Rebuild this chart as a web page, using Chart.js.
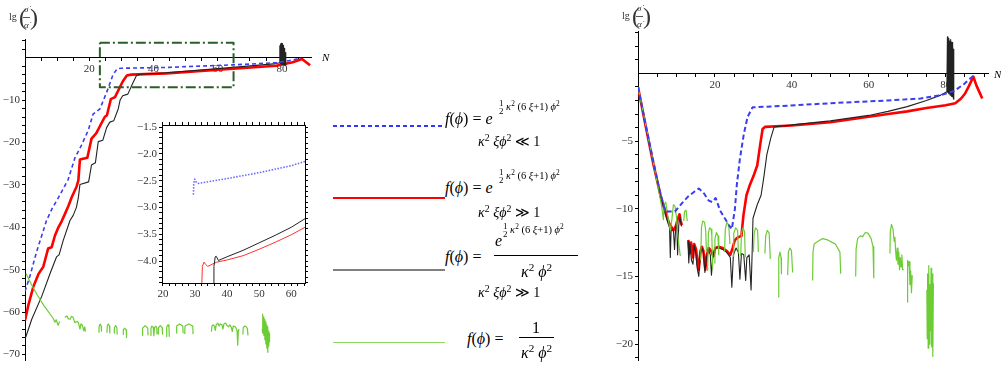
<!DOCTYPE html>
<html>
<head>
<meta charset="utf-8">
<script src="https://cdn.jsdelivr.net/npm/chart.js@4.4.0/dist/chart.umd.min.js"></script>
<style>
  body { margin: 0; background: #fff; width: 1001px; height: 369px; overflow: hidden; position: relative;
         font-family: "Liberation Serif", "DejaVu Serif", serif; color: #000; }
  .box { position: absolute; }
  .t { position: absolute; white-space: nowrap; transform: translateY(-50%); line-height: 1; }
  .sp { font-size: 70%; vertical-align: 0.55em; }
  .fr { display: inline-block; vertical-align: middle; text-align: center; font-size: 85%; line-height: 0.85; }
  .fr span { display: block; }
  .bar { position: absolute; height: 1px; background: #000; }
  .lg { position: absolute; left: 333px; width: 112px; }
</style>
</head>
<body>

<div class="box" style="left:0;top:0;width:330px;height:369px"><canvas id="chart-left"></canvas></div>
<div class="box" style="left:600px;top:0;width:401px;height:369px"><canvas id="chart-right"></canvas></div>
<div class="box" style="left:130px;top:115px;width:180px;height:185px;background:#fff"><canvas id="chart-inset"></canvas></div>

<!-- axis titles -->
<div class="t" style="left:9px;top:17px;font-size:10px;color:#333">lg</div>
<div class="t" style="left:19px;top:17px;font-size:24px;color:#333">(</div>
<div class="t" style="left:24px;top:9px;font-size:9px;color:#333"><i>σ̇</i></div>
<div class="bar" style="left:23px;top:17px;width:7px;background:#555"></div>
<div class="t" style="left:24px;top:25px;font-size:9px;color:#333"><i>α̇</i></div>
<div class="t" style="left:30px;top:17px;font-size:24px;color:#333">)</div>
<div class="t" style="left:322px;top:57px;font-size:11px"><i>N</i></div>

<div class="t" style="left:622px;top:16px;font-size:10px;color:#333">lg</div>
<div class="t" style="left:632px;top:16px;font-size:24px;color:#333">(</div>
<div class="t" style="left:637px;top:8px;font-size:9px;color:#333"><i>σ̇</i></div>
<div class="bar" style="left:636px;top:16px;width:7px;background:#555"></div>
<div class="t" style="left:637px;top:24px;font-size:9px;color:#333"><i>α̇</i></div>
<div class="t" style="left:643px;top:16px;font-size:24px;color:#333">)</div>
<div class="t" style="left:994px;top:74px;font-size:11px"><i>N</i></div>

<!-- legend -->
<div class="lg" style="top:125px;height:1.5px;background:repeating-linear-gradient(90deg,#3434ff 0 4px,transparent 4px 7px)"></div>
<div class="lg" style="top:196.5px;height:2.5px;background:#f00"></div>
<div class="lg" style="top:269px;height:2px;background:#808080"></div>
<div class="lg" style="top:341.5px;height:1.5px;background:#8fd860"></div>

<div class="t" style="left:445px;top:119px;font-size:16px"><i>f</i>(<i>ϕ</i>) = <i>e</i></div>
<div class="t" style="left:499px;top:108px;font-size:10.5px"><span class="fr"><span>1</span><span>2</span></span> <i>κ</i><span class="sp">2</span> (6 <i>ξ</i>+1) <i>ϕ</i><span class="sp">2</span></div>
<div class="t" style="left:478px;top:141px;font-size:14px"><i>κ</i><span class="sp">2</span> <i>ξϕ</i><span class="sp">2</span> ≪ 1</div>

<div class="t" style="left:445px;top:188px;font-size:16px"><i>f</i>(<i>ϕ</i>) = <i>e</i></div>
<div class="t" style="left:499px;top:177px;font-size:10.5px"><span class="fr"><span>1</span><span>2</span></span> <i>κ</i><span class="sp">2</span> (6 <i>ξ</i>+1) <i>ϕ</i><span class="sp">2</span></div>
<div class="t" style="left:478px;top:212px;font-size:14px"><i>κ</i><span class="sp">2</span> <i>ξϕ</i><span class="sp">2</span> ≫ 1</div>

<div class="t" style="left:445px;top:257px;font-size:16px"><i>f</i>(<i>ϕ</i>) =</div>
<div class="t" style="left:495px;top:241px;font-size:16px"><i>e</i></div>
<div class="t" style="left:503px;top:231px;font-size:10.5px"><span class="fr"><span>1</span><span>2</span></span> <i>κ</i><span class="sp">2</span> (6 <i>ξ</i>+1) <i>ϕ</i><span class="sp">2</span></div>
<div class="bar" style="left:494px;top:255px;width:84px"></div>
<div class="t" style="left:521px;top:271px;font-size:16px"><i>κ</i><span class="sp">2</span> <i>ϕ</i><span class="sp">2</span></div>
<div class="t" style="left:478px;top:292px;font-size:14px"><i>κ</i><span class="sp">2</span> <i>ξϕ</i><span class="sp">2</span> ≫ 1</div>

<div class="t" style="left:467px;top:339px;font-size:16px"><i>f</i>(<i>ϕ</i>) =</div>
<div class="t" style="left:532px;top:328px;font-size:16px">1</div>
<div class="bar" style="left:519px;top:337px;width:35px"></div>
<div class="t" style="left:521px;top:352px;font-size:16px"><i>κ</i><span class="sp">2</span> <i>ϕ</i><span class="sp">2</span></div>

<script>
/* ---- Data: [N, lg] pairs, null = gap ---- */

// left panel
const leftBlue = [[0,-55.1],[1.5,-51.6],[3.6,-45.8],[6.7,-38.4],[8.5,-35.5],[10.4,-33],[13.4,-28.8],[15.5,-23.7],
  [17.6,-20.6],[19.7,-17.1],[21.2,-13.3],[23.3,-12.1],[25.4,-8.2],[27.4,-4],[28.7,-2.6],[30,-2.5],[44,-2.3],
  [64.7,-1.7],[78.2,-1.2],[82.3,-0.7],[85.9,-0.1]];

const leftRed = [[0,-62],[1,-58.5],[2.6,-54],[4.2,-51],[5.7,-49.3],[7.2,-45],[8.3,-44.7],[9.3,-42],[10.4,-40],
  [11.4,-38.6],[12.4,-36.9],[13.5,-35],[14.5,-33],[16,-30.5],[16.6,-29],[17.1,-24],[19.4,-23.6],[20.7,-19.1],
  [22.2,-17.8],[24.8,-14],[25.5,-13.6],[26.7,-9.8],[28,-9.3],[29.5,-7],[30.5,-5.5],[31.7,-4.2],[33,-4.0],
  [44,-3.7],[64.7,-2.6],[78.2,-1.9],[83.3,-1.1],[86.2,-0.3],[88.7,-1.8]];

const leftBlack = [[0,-66.4],[2.1,-61.7],[5.2,-56.3],[7.8,-50.9],[9.8,-47],[10.6,-46.5],[11.9,-43.1],[14,-38.4],
  [15,-37.2],[16,-35.3],[16.6,-33],[17.1,-29.9],[19.8,-29.3],[20.7,-25.3],[21.9,-24.8],[22.8,-19.8],[24.2,-19.5],
  [25.4,-16.5],[26.4,-15.2],[27.6,-14.9],[29,-12.1],[29.6,-10],[30.4,-9],[32,-8.6],[33.6,-5.9],[34.7,-4.2],
  [36,-3.9],[44,-3.55],[64.7,-2.3],[78.2,-1.4],[79.2,-1.2],
  [79.3,2.8],[79.4,-1.3],[79.5,3.2],[79.6,-1.4],[79.7,3.4],[79.8,-1.5],[79.9,3.0],[80,-1.5],[80.1,3.3],[80.2,-1.6],
  [80.3,2.9],[80.4,-1.6],[80.5,2.6],[80.6,-1.7],[80.7,2.2],[80.8,-1.7],[80.9,1.6],[81,-1.8],[81.1,1.2],[81.2,-1.8]];

const leftGreen = [[0.3,-50.9],[2,-53.5],[4,-56.2],[6,-58.6],[8.7,-61.4],[9.3,-62.4],[9.7,-61.8],[10.3,-63.1],[10.8,-62.2],null,
  [12.4,-61.3],[13,-60.9],[13.5,-61.6],[14,-61.7],[14.5,-61],[15,-61.3],[15.5,-62.5],[16.2,-62.2],[16.6,-62.5],
  [17.1,-64],[17.4,-62.8],[17.8,-63],[18.3,-64.4],[18.6,-63.5],[18.8,-64.6],null,
  [23,-64.9],[23.1,-63.3],[23.4,-62.8],[23.7,-63.3],[23.8,-64.5],null,
  [25.5,-64.9],[25.6,-63.3],[25.9,-62.8],[26.3,-63.3],[26.4,-64.9],null,
  [27.7,-65],[27.8,-63.7],[28.2,-63.2],[28.6,-63.7],[28.7,-65.3],null,
  [30.5,-65.3],[30.6,-64.2],[31,-63.8],[31.5,-64.2],[31.6,-66],null,
  [36.5,-65.5],[36.6,-63.8],[37.4,-63.2],[38.2,-63.8],[38.3,-65.5],null,
  [39.1,-65.5],[39.2,-63.8],[39.5,-63.3],[39.9,-63.6],[40.1,-65.6],[40.3,-63.6],[40.7,-63.3],[41,-63.8],[41.1,-65.3],null,
  [41.4,-65.2],[41.5,-63.7],[42.1,-63.2],[42.7,-63.7],[42.8,-65.2],null,
  [44,-65.8],[44.1,-63.5],[44.5,-63],[44.8,-63.5],[44.9,-65.8],null,
  [47.1,-65],[47.2,-63.3],[48.1,-62.8],[49.1,-63.3],[49.2,-65],null,
  [49.7,-65.2],[49.8,-63.3],[51,-62.8],[52.2,-63.3],[52.3,-65.2],null,
  [58,-64.6],[58.2,-63.2],[58.6,-63],[59,-63.4],[59.2,-64.3],[59.5,-63],[60,-62.6],[60.4,-63.3],[60.8,-62.8],
  [61.3,-63],[61.6,-64],[61.9,-62.8],[62.4,-62.6],[62.9,-63.2],[63.3,-63.5],[63.7,-63],[64.2,-63.6],[64.5,-64.6],
  [64.8,-63.3],[65.3,-63.4],[65.7,-63.8],[66,-64.5],[66.2,-67.8],[66.4,-64.4],[66.6,-64],null,
  [67.8,-65.3],[67.9,-63.8],[68.3,-63.3],[68.8,-63.4],[69.2,-63.9],[69.4,-65.5],null,
  [73.8,-64],[73.9,-60.5],[74.05,-65],[74.2,-61.2],[74.35,-65.5],[74.5,-61.8],[74.65,-66.5],[74.8,-62.3],
  [74.95,-67.5],[75.1,-63],[75.25,-68.5],[75.4,-63.5],[75.55,-69.5],[75.7,-64.5],[75.85,-68],[76,-65],[76.1,-67]];

const leftZoomBox = [[23.3,3.5],[64.9,3.5],[64.9,-7],[23.3,-7],[23.3,3.5]];

const LEFT_X_TICKS = [5,10,15,20,25,30,35,40,45,50,55,60,65,70,75,80,85];
const LEFT_Y_TICKS = [-70,-68,-66,-64,-62,-60,-58,-56,-54,-52,-50,-48,-46,-44,-42,-40,-38,-36,-34,-32,-30,
  -28,-26,-24,-22,-20,-18,-16,-14,-12,-10,-8,-6,-4,-2,2,4];

// inset (zoom of the dash-dot box)
const insetBlue = [[29.5,-2.76],[29.6,-2.55],[29.9,-2.47],[30.4,-2.53],[31,-2.55],[40,-2.46],[50,-2.35],[60,-2.22],[64.3,-2.14]];
const insetRed = [[32.1,-4.45],[32.3,-4.1],[32.8,-4.02],[33.3,-4.06],[33.9,-4.1],[35,-4.07],[36.8,-4.02],[40,-3.98],
  [45,-3.9],[50,-3.78],[55,-3.65],[60,-3.51],[64.3,-3.37]];
const insetBlack = [[35.7,-4.45],[35.9,-4.1],[36.3,-3.92],[36.6,-3.91],[37.3,-3.99],[40,-3.92],[45,-3.8],[50,-3.66],
  [55,-3.52],[60,-3.37],[64.3,-3.21]];

const INSET_X_TICKS = [20,22,24,26,28,30,32,34,36,38,40,42,44,46,48,50,52,54,56,58,60,62,64];
const INSET_Y_TICKS = [-4.4,-4.3,-4.2,-4.1,-4.0,-3.9,-3.8,-3.7,-3.6,-3.5,-3.4,-3.3,-3.2,-3.1,-3.0,-2.9,-2.8,-2.7,
  -2.6,-2.5,-2.4,-2.3,-2.2,-2.1,-2.0,-1.9,-1.8,-1.7,-1.6,-1.5];

// right panel
const rightBlue = [[0,-1],[2,-3.8],[4,-6.5],[5.5,-8.5],[6.8,-9.9],[7.5,-10.2],[9.6,-10.2],[11.4,-9.6],[13,-9.1],
  [14.8,-8.7],[15.8,-8.5],[17,-8.8],[18.4,-9.4],[19.3,-9.5],[20.2,-9.2],[21.3,-10.1],[23.6,-11.2],[24.4,-11.5],
  [25.2,-10],[25.7,-8.2],[26.5,-6.3],[27.5,-4.5],[28.5,-3.2],[29.8,-2.5],[38.9,-2.38],[50,-2.2],[64.9,-2.0],
  [73.5,-1.85],[78.7,-1.6],[82.2,-1.3],[84.7,-0.8],[87.2,-0.17]];

const rightRed = [[0,-1],[2,-3.9],[4,-6.7],[6,-9.2],[8,-11],[9.2,-11.6],[9.8,-11.3],[10.3,-10.8],[10.8,-10.4],
  [11.1,-10.9],[11.4,-11.2],null,
  [13.1,-12.3],[13.4,-13.3],[13.8,-12.5],[14.3,-13.6],[14.6,-12.6],[15.1,-13],[15.5,-14.1],[15.8,-14.5],[16.2,-13.2],
  [16.6,-12.8],[17,-13.1],[17.5,-14.5],[17.9,-13.4],[18.4,-12.9],[19,-13.1],[19.6,-13.5],[20.1,-12.9],[21,-12.8],
  [22,-12.9],[23,-13.1],[24,-13.4],[24.6,-12.9],[25.2,-12.3],[26,-12.1],[26.9,-12.0],[27.4,-10.5],[28.2,-9],
  [29,-8.3],[30,-7.6],[31,-6.8],[31.8,-5.2],[32.4,-4.1],[33,-3.95],[40,-3.85],[50,-3.6],[60,-3.2],[65,-3.0],
  [70,-2.8],[75,-2.55],[80,-2.35],[82.5,-2.2],[84,-1.85],[85,-1.5],[86,-0.95],[87.2,-0.24],[88,-0.9],[88.8,-1.4],[89.5,-1.85]];

const rightBlack = [[0,-1],[2,-3.9],[4,-6.7],[6,-9.3],[7.5,-10.8],[8.2,-11.4],[8.4,-13.6],[8.6,-11.6],[9.2,-11.5],
  [9.5,-13],[9.8,-11.4],[10.1,-11.2],[10.3,-13.4],[10.6,-11.2],[10.9,-10.6],[11.3,-11.3],null,
  [13,-12.4],[13.2,-14],[13.5,-12.6],[13.9,-13.8],[14.3,-14.1],[14.6,-12.7],[15,-13.2],[15.4,-14.4],[15.8,-15],
  [16.2,-13.4],[16.6,-12.9],[17,-13.2],[17.4,-14.7],[17.8,-13.6],[18.3,-13],[18.8,-13.4],[19.1,-14.9],[19.5,-13.4],
  [20.2,-12.9],[21,-12.9],[22,-13],[23,-13.2],[24,-13.6],[24.4,-15.8],[24.8,-13.4],[25.5,-12.9],[26.1,-13.2],
  [26.5,-15.2],[26.9,-13.3],[27.5,-13.4],[28,-15.3],[28.3,-13.6],[28.9,-13.4],[29.4,-16],[29.7,-13],[29.9,-10.7],
  [31,-9.7],[32,-9],[32.7,-7.7],[33.5,-6],[34.5,-4.8],[35.4,-3.95],[40,-3.8],[50,-3.5],[60,-3.1],[65,-2.8],
  [70,-2.45],[75,-2.0],[78.7,-1.6],[80.3,-1.35],
  [80.45,2.7],[80.55,-1.4],[80.65,2.5],[80.75,-1.5],[80.85,2.6],[80.95,-1.5],[81.05,2.4],[81.15,-1.6],[81.25,2.5],
  [81.35,-1.6],[81.45,2.3],[81.55,-1.7],[81.65,2.2],[81.75,-1.7],[81.85,2.3],[81.95,-1.8],[82.05,1.8],[82.15,-1.9]];

const rightGreen = [[0,-1],[2,-3.8],[4,-6.6],[5.5,-8.8],[6.2,-9.9],[6.6,-10.8],[6.8,-9.7],[7.2,-9.5],[7.6,-10.2],
  [8,-11],[8.4,-11.6],[8.8,-10.8],[9.2,-9.7],[9.6,-9.8],[10,-10.6],[10.3,-11.8],[10.6,-12.6],[11,-13.5],null,
  [11.9,-10.9],[12.1,-10.2],[12.5,-10.1],[12.8,-10.9],null,
  [16.3,-13.8],[16.5,-11.4],[16.8,-10.9],[17.3,-11],[17.6,-11.6],[17.8,-13.2],null,
  [18.1,-14.6],[18.3,-11.8],[18.6,-11.4],[19,-11.5],[19.2,-12],[19.4,-14.5],null,
  [19.8,-14],[20,-12.2],[20.4,-11.75],[20.8,-12],[21,-13.4],null,
  [22.5,-13.2],[22.7,-11.5],[23.1,-11],[23.6,-11.2],[23.9,-12.6],null,
  [24.7,-13.5],[24.9,-11.8],[25.4,-11.4],[25.9,-11.6],[26.1,-13.3],null,
  [26.7,-13.5],[26.9,-11.8],[27.3,-11.4],[27.7,-11.7],[27.9,-13.6],null,
  [30,-13.2],[30.2,-11.8],[30.6,-11.4],[31.1,-11.6],[31.3,-13.2],null,
  [33,-13.3],[33.2,-12],[33.6,-11.6],[34.1,-11.8],[34.4,-13.7],null,
  [36.4,-16.5],[36.6,-13.6],[36.9,-13.2],[37.2,-13.6],[37.3,-14.8],null,
  [38.9,-14.9],[39.1,-13.2],[39.5,-12.9],[39.9,-13.1],[40.2,-14.7],null,
  [45.4,-15.3],[45.5,-13.2],[45.8,-12.6],[46.8,-12.4],[48,-12.2],[49.3,-12.3],[50.6,-12.5],[51.3,-12.6],[52.5,-13.2],[52.7,-14.8],null,
  [56.6,-15.0],[56.7,-13],[57.1,-12.2],[57.8,-12],[58.4,-12.05],[59.1,-11.75],[59.8,-11.8],[60.6,-12.2],[61.1,-12.8],[61.3,-15.1],null,
  [65.5,-13.3],[65.6,-11.7],[65.9,-11.15],[66.3,-11.5],[66.6,-12.4],[66.8,-12.1],[67,-13.2],[67.2,-13.8],[67.4,-12.9],
  [67.6,-14.1],[67.8,-13.2],[68,-14.5],[68.2,-13.6],[68.4,-14.3],[68.6,-13.4],[68.8,-14.5],[69.1,-14.5],null,
  [70,-16.9],[70.1,-13.8],[70.3,-14.2],[70.5,-13.9],[70.7,-15.6],[70.9,-14.6],[71.1,-16.2],[71.3,-14.9],null,
  [75.1,-16],[75.2,-19.6],[75.3,-14.8],[75.45,-20.3],[75.6,-14.2],[75.75,-20],[75.9,-15.6],[76.05,-19],[76.2,-14.4],
  [76.35,-20.2],[76.5,-14.8],[76.65,-20.9],[76.8,-15.5]];

const RIGHT_X_TICKS = [5,10,15,20,25,30,35,40,45,50,55,60,65,70,75,80,85,90];
const RIGHT_Y_TICKS = [-21,-20,-19,-18,-17,-16,-15,-14,-13,-12,-11,-10,-9,-8,-7,-6,-5,-4,-3,-2,-1,1,2,3];

/* ---- Helpers ---- */

const TICK_FONT = { family: '"Liberation Serif", "DejaVu Serif", serif', size: 11 };
const TICK_COLOR = '#333';

function toPoints(list) {
  let lastX = 0;
  return list.map(p => {
    if (p === null) return { x: lastX, y: null };
    lastX = p[0];
    return { x: p[0], y: p[1] };
  });
}

function line(list, color, width, dash) {
  return {
    data: toPoints(list),
    borderColor: color,
    borderWidth: width,
    borderDash: dash || [],
    borderJoinStyle: 'round',
    pointRadius: 0,
    tension: 0,
    fill: false,
    spanGaps: false
  };
}

function minus(v, digits) {
  const s = digits ? Math.abs(v).toFixed(digits) : String(Math.abs(v));
  return (v < 0 ? '\u2212' : '') + s;
}

function setTicks(values) {
  return (axis) => { axis.ticks = values.map(v => ({ value: v })); };
}

function axis(min, max, ticks, label, extra) {
  return Object.assign({
    type: 'linear',
    min: min,
    max: max,
    afterBuildTicks: setTicks(ticks),
    ticks: { autoSkip: false, maxRotation: 0, color: TICK_COLOR, font: TICK_FONT, padding: 2, callback: label },
    grid: { drawOnChartArea: false, tickLength: 3, color: '#000', tickWidth: 1 },
    border: { display: true, color: '#000', width: 1 }
  }, extra);
}

function makeChart(id, datasets, scales, padding) {
  return new Chart(document.getElementById(id), {
    type: 'line',
    data: { datasets: datasets },
    options: {
      responsive: true,
      maintainAspectRatio: false,
      animation: false,
      devicePixelRatio: 1,
      layout: { padding: padding },
      plugins: { legend: { display: false }, tooltip: { enabled: false } },
      scales: scales
    }
  });
}

/* ---- Left panel ---- */

makeChart('chart-left', [
  line(leftZoomBox, '#2a5e2a', 2, [10, 3, 2, 3]),
  line(leftBlue, '#3c3cf0', 1.6, [4, 3]),
  line(leftGreen, '#6ccc34', 1.2),
  line(leftBlack, '#222', 1.1),
  line(leftRed, '#ff0000', 2.6)
], {
  x: axis(0, 89, LEFT_X_TICKS, v => (v % 20 === 0 ? String(v) : ''),
    { position: { y: 0 }, afterFit: s => { s.height = 0; } }),
  y: axis(-71.4, 4.4, LEFT_Y_TICKS, v => (v % 10 === 0 && v !== 0 ? minus(v) : ''),
    { position: 'left', afterFit: s => { s.width = 25; } })
}, { top: 39, right: 19, bottom: 4, left: 0 });

/* ---- Inset ---- */

makeChart('chart-inset', [
  line(insetBlue, '#6a6aff', 1.6, [1.5, 1.5]),
  line(insetBlack, '#222', 1),
  line(insetRed, '#ff3030', 1)
], {
  x: axis(19.7, 64.3, INSET_X_TICKS, v => (v % 10 === 0 ? String(v) : ''),
    { position: 'bottom', afterFit: s => { s.height = 17; } }),
  y: axis(-4.41, -1.46, INSET_Y_TICKS,
    v => (Math.abs(v * 2 - Math.round(v * 2)) < 1e-6 ? minus(v, 1) : ''),
    { position: 'left', afterFit: s => { s.width = 32; } }),
  x2: axis(19.7, 64.3, INSET_X_TICKS, () => '',
    { position: 'top', afterFit: s => { s.height = 10; } }),
  y2: axis(-4.41, -1.46, INSET_Y_TICKS, () => '',
    { position: 'right', afterFit: s => { s.width = 5; } })
}, 0);

/* ---- Right panel ---- */

makeChart('chart-right', [
  line(rightBlue, '#3c3cf0', 2, [5, 3]),
  line(rightGreen, '#6ccc34', 1.2),
  line(rightBlack, '#222', 1.1),
  line(rightRed, '#ff0000', 2.6)
], {
  x: axis(0, 91, RIGHT_X_TICKS, v => (v % 20 === 0 ? String(v) : ''),
    { position: { y: 0 }, afterFit: s => { s.height = 0; } }),
  y: axis(-21.2, 3.1, RIGHT_Y_TICKS, v => (v % 5 === 0 ? minus(v) : ''),
    { position: 'left', afterFit: s => { s.width = 38; } })
}, { top: 31.5, right: 13, bottom: 4.6, left: 0 });
</script>
</body>
</html>
